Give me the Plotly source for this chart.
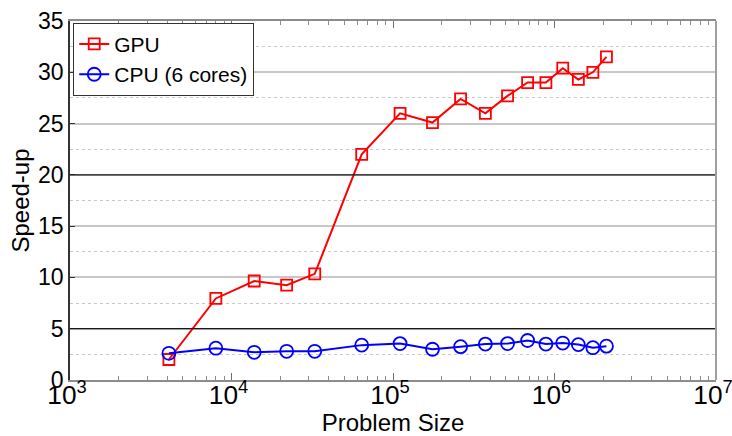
import plotly.graph_objects as go

# Problem sizes (cubic grids) and measured speed-ups
problem_size = [4096, 8000, 13824, 21952, 32768, 64000, 110592, 175616, 262144,
                373248, 512000, 681472, 884736, 1124864, 1404928, 1728000, 2097152]
gpu_speedup = [2.0, 7.95, 9.65, 9.25, 10.35, 22.0, 26.0, 25.1, 27.4,
               26.0, 27.7, 29.0, 29.0, 30.4, 29.3, 30.0, 31.5]
cpu_speedup = [2.6, 3.1, 2.7, 2.8, 2.8, 3.4, 3.55, 3.0, 3.25,
               3.5, 3.55, 3.85, 3.5, 3.6, 3.45, 3.15, 3.3]

series_names = ["GPU", "CPU (6 cores)"]
y_ticks = [0, 5, 10, 15, 20, 25, 30, 35]
dark_grid_levels = [5, 20]

FONT = "Liberation Sans, Arial, sans-serif"

fig = go.Figure()
fig.add_trace(go.Scatter(
    x=problem_size, y=gpu_speedup, name=series_names[0], mode="lines+markers",
    line=dict(color="#ff0000", width=2),
    marker=dict(symbol="square-open", size=11, color="#ff0000", line=dict(width=1.8)),
))
fig.add_trace(go.Scatter(
    x=problem_size, y=cpu_speedup, name=series_names[1], mode="lines+markers",
    line=dict(color="#0000ff", width=2),
    marker=dict(symbol="circle-open", size=13, color="#0000ff", line=dict(width=1.8)),
))

# Darker horizontal reference lines
for lvl in dark_grid_levels:
    fig.add_shape(type="line", xref="x domain", x0=0, x1=1, yref="y", y0=lvl, y1=lvl,
                  line=dict(color="#1a1a1a", width=1.2), layer="above")
# Right frame edge
fig.add_shape(type="line", xref="paper", x0=1, x1=1, yref="paper", y0=0, y1=1,
              line=dict(color="#a0a0a0", width=2))

fig.update_layout(
    width=732, height=436,
    margin=dict(l=70, r=16, t=21, b=56),
    paper_bgcolor="white", plot_bgcolor="white",
    font=dict(family=FONT, size=22, color="black"),
    showlegend=True,
    legend=dict(
        x=0.005, y=0.995, xanchor="left", yanchor="top",
        bgcolor="white", bordercolor="#333333", borderwidth=1,
        font=dict(family=FONT, size=21, color="black"),
        itemwidth=30, tracegroupgap=0,
    ),
    xaxis=dict(
        type="log", range=[3, 7], dtick=1,
        exponentformat="power", automargin=False,
        showgrid=False, zeroline=False,
        showline=True, linecolor="#8c8c8c", linewidth=1.5, mirror="ticks",
        ticks="inside", ticklen=7, tickcolor="#6e6e6e", tickwidth=1,
        minor=dict(ticks="inside", ticklen=4, dtick="D1", tickcolor="#8c8c8c", showgrid=False),
        tickfont=dict(family=FONT, size=21, color="black"),
        ticklabelstandoff=-8, ticklabelshift=-3, ticklabeloverflow="allow",
        title=dict(text="Problem Size", font=dict(family=FONT, size=24, color="black"), standoff=2),
    ),
    yaxis=dict(
        range=[0, 35], tickvals=y_ticks, automargin=False,
        showgrid=True, gridcolor="#c8c8c8", gridwidth=1.5,
        zeroline=False,
        showline=True, linecolor="#333333", linewidth=1.5,
        ticks="inside", ticklen=5, tickcolor="#333333",
        minor=dict(dtick=2.5, showgrid=True, gridcolor="#c8c8c8", griddash="dot", gridwidth=1),
        tickfont=dict(family=FONT, size=23, color="black"),
        title=dict(text="Speed-up", font=dict(family=FONT, size=24, color="black"), standoff=2),
    ),
)

fig.write_html("out.html")
